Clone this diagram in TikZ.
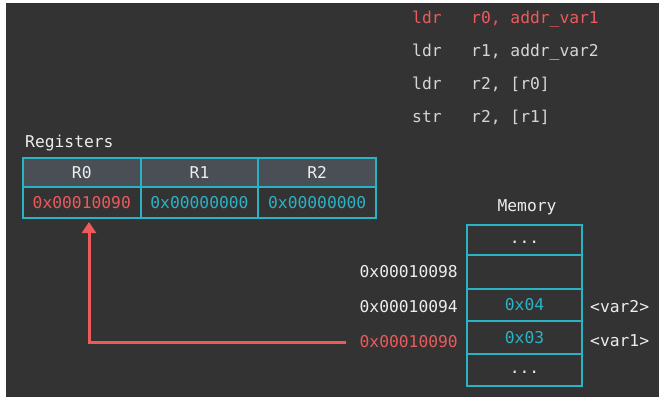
\documentclass[tikz,border=0pt]{standalone}
\usepackage{fontspec}
\newfontfamily\codefont{DejaVu Sans Mono}
\usetikzlibrary{arrows.meta}
\definecolor{bgc}{HTML}{333333}
\definecolor{hdrc}{HTML}{4A4E55}
\definecolor{cyanc}{HTML}{2AB3C4}
\definecolor{redc}{HTML}{EC5A5C}
\definecolor{txtc}{HTML}{EDEDED}
\definecolor{codec}{HTML}{D6D6D6}
\tikzset{
  txt/.style={font=\codefont\fontsize{16.3}{19}\selectfont, inner sep=0pt},
  codetxt/.style={txt, text=codec, anchor=base west},
  hdrcell/.style={draw=cyanc, line width=2pt, fill=hdrc, minimum width=117.7pt, minimum height=29pt, txt, text=txtc},
  valcell/.style={draw=cyanc, line width=2pt, fill=bgc, minimum width=117.7pt, minimum height=31pt, txt},
  memcell/.style={draw=cyanc, line width=2pt, fill=bgc, minimum width=115pt, txt, text=cyanc},
  addr/.style={txt, text=txtc, anchor=east},
  ptr/.style={draw=redc, line width=3pt, -{Triangle[width=14pt,length=11pt]}}
}
\begin{document}
\begin{tikzpicture}[x=1pt,y=-1pt]
\useasboundingbox (0,0) rectangle (666,405);
\fill[white] (0,0) rectangle (666,405);
\fill[bgc] (6,3) rectangle (659,397);
% code
\node[codetxt, text=redc] (c1a) at (412,23) {ldr};
\node[codetxt, text=redc] (c1b) at (471,23) {r0, addr\_var1};
\node[codetxt] (c2a) at (412,56) {ldr};
\node[codetxt] (c2b) at (471,56) {r1, addr\_var2};
\node[codetxt] (c3a) at (412,89) {ldr};
\node[codetxt] (c3b) at (471,89) {r2, [r0]};
\node[codetxt] (c4a) at (412,122) {str};
\node[codetxt] (c4b) at (471,122) {r2, [r1]};
% registers
\node[txt, text=txtc, anchor=base west] (reglbl) at (25,147) {Registers};
\node[hdrcell] (h0) at (81.8,172.5) {R0};
\node[hdrcell] (h1) at (199.5,172.5) {R1};
\node[hdrcell] (h2) at (317.2,172.5) {R2};
\node[valcell, text=redc] (v0) at (81.8,202.5) {0x00010090};
\node[valcell, text=cyanc] (v1) at (199.5,202.5) {0x00000000};
\node[valcell, text=cyanc] (v2) at (317.2,202.5) {0x00000000};
% memory
\node[txt, text=txtc] (memlbl) at (527,207) {Memory};
\node[memcell, minimum height=30pt] (m0) at (524.5,240.3) {};
\node[memcell, minimum height=33.7pt] (m1) at (524.5,272.2) {};
\node[memcell, minimum height=32pt] (m2) at (524.5,305) {0x04};
\node[memcell, minimum height=33pt] (m3) at (524.5,337.5) {0x03};
\node[memcell, minimum height=32pt] (m4) at (524.5,370) {};
\node[txt, text=txtc, anchor=base] (d0) at (524.5,243) {...};
\node[txt, text=txtc, anchor=base] (d4) at (524.5,373) {...};
\node[addr] (a98) at (458,272) {0x00010098};
\node[addr] (a94) at (458,307) {0x00010094};
\node[addr, text=redc] (a90) at (458,342) {0x00010090};
\node[txt, text=txtc, anchor=west] (var2) at (590,307) {<var2>};
\node[txt, text=txtc, anchor=west] (var1) at (590,341) {<var1>};
% arrow
\coordinate (tip) at (89,222);
\draw[ptr, shorten <=13pt] (a90.west) -| (tip);
\end{tikzpicture}
\end{document}
